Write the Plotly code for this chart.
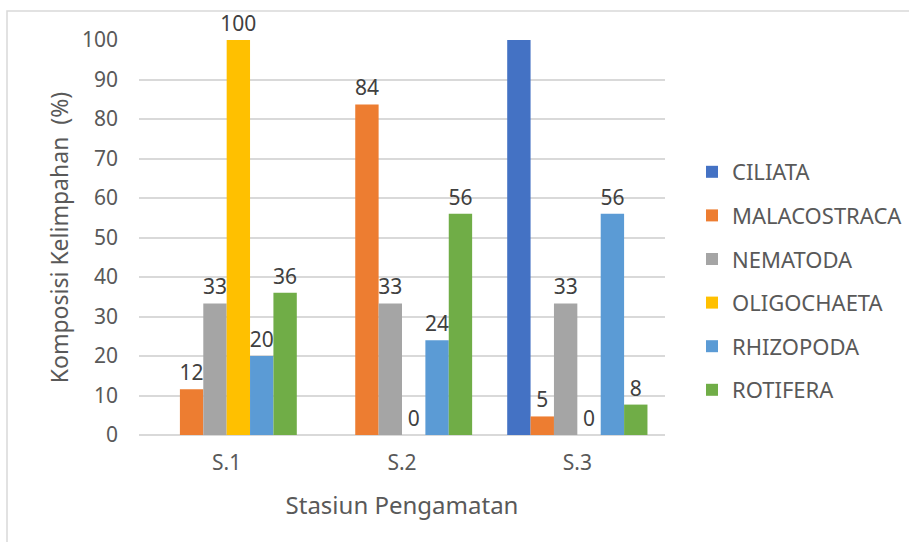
import plotly.graph_objects as go

# Stations and per-taxon abundance composition (%)
stations = ["S.1", "S.2", "S.3"]
ciliata = [None, None, 100]
malacostraca = [11.6, 83.7, 4.7]
nematoda = [33.3, 33.3, 33.3]
oligochaeta = [100, 0, 0]
rhizopoda = [20, 24, 56]
rotifera = [36, 56, 7.7]

y_ticks = [0, 10, 20, 30, 40, 50, 60, 70, 80, 90, 100]

series = [
    ("CILIATA", ciliata, "#4472C4", False),
    ("MALACOSTRACA", malacostraca, "#ED7D31", True),
    ("NEMATODA", nematoda, "#A5A5A5", True),
    ("OLIGOCHAETA", oligochaeta, "#FFC000", True),
    ("RHIZOPODA", rhizopoda, "#5B9BD5", True),
    ("ROTIFERA", rotifera, "#70AD47", True),
]

FONT = "Noto Sans"
TEXT_COLOR = "#595959"

fig = go.Figure()
for i, (name, vals, color, labelled) in enumerate(series):
    fig.add_trace(go.Bar(
        x=stations,
        y=vals,
        name=name,
        legendgroup=f"g{i}",
        marker=dict(color=color, line=dict(width=0)),
        texttemplate="%{y:.0f}" if labelled else "",
        textposition="outside",
        constraintext="none",
        textfont=dict(family=FONT, size=21, color="#404040"),
        cliponaxis=False,
    ))

W, H = 909, 542
ml, mr, mt, mb = 139, 244, 40, 107
pw, ph = W - ml - mr, H - mt - mb

# light outer frame of the chart area
fig.add_shape(
    type="rect", xref="paper", yref="paper",
    x0=(7 - ml) / pw, x1=1 + (mr + 10) / pw,
    y0=-(mb + 10) / ph, y1=1 + (mt - 11) / ph,
    line=dict(color="#d9d9d9", width=1.5), fillcolor="rgba(0,0,0,0)",
    layer="below",
)

fig.update_layout(
    width=W, height=H,
    margin=dict(l=ml, r=mr, t=mt, b=mb, autoexpand=False),
    paper_bgcolor="white", plot_bgcolor="white",
    barmode="group", bargap=0.2, bargroupgap=0,
    font=dict(family=FONT, color=TEXT_COLOR),
    showlegend=True,
    legend=dict(
        x=(692 - ml) / pw, xanchor="left",
        y=(H - mb - 281) / ph, yanchor="middle",
        font=dict(family=FONT, size=22, color=TEXT_COLOR),
        tracegroupgap=12,
        bgcolor="rgba(0,0,0,0)",
    ),
    xaxis=dict(
        showgrid=False, showline=False, ticks="",
        tickfont=dict(family=FONT, size=21, color=TEXT_COLOR),
        ticklabelstandoff=13,
        title=dict(text="Stasiun Pengamatan", standoff=22,
                   font=dict(family=FONT, size=24, color=TEXT_COLOR)),
    ),
    yaxis=dict(
        range=[0, 100], tickvals=y_ticks,
        showgrid=True, gridcolor="#d9d9d9", gridwidth=1.5,
        zeroline=True, zerolinecolor="#d9d9d9", zerolinewidth=1.5,
        showline=False, ticks="",
        tickfont=dict(family=FONT, size=21, color=TEXT_COLOR),
        ticklabelstandoff=20,
        title=dict(text="Komposisi Kelimpahan  (%)", standoff=6,
                   font=dict(family=FONT, size=23, color=TEXT_COLOR)),
    ),
)

fig.write_html("out.html")
